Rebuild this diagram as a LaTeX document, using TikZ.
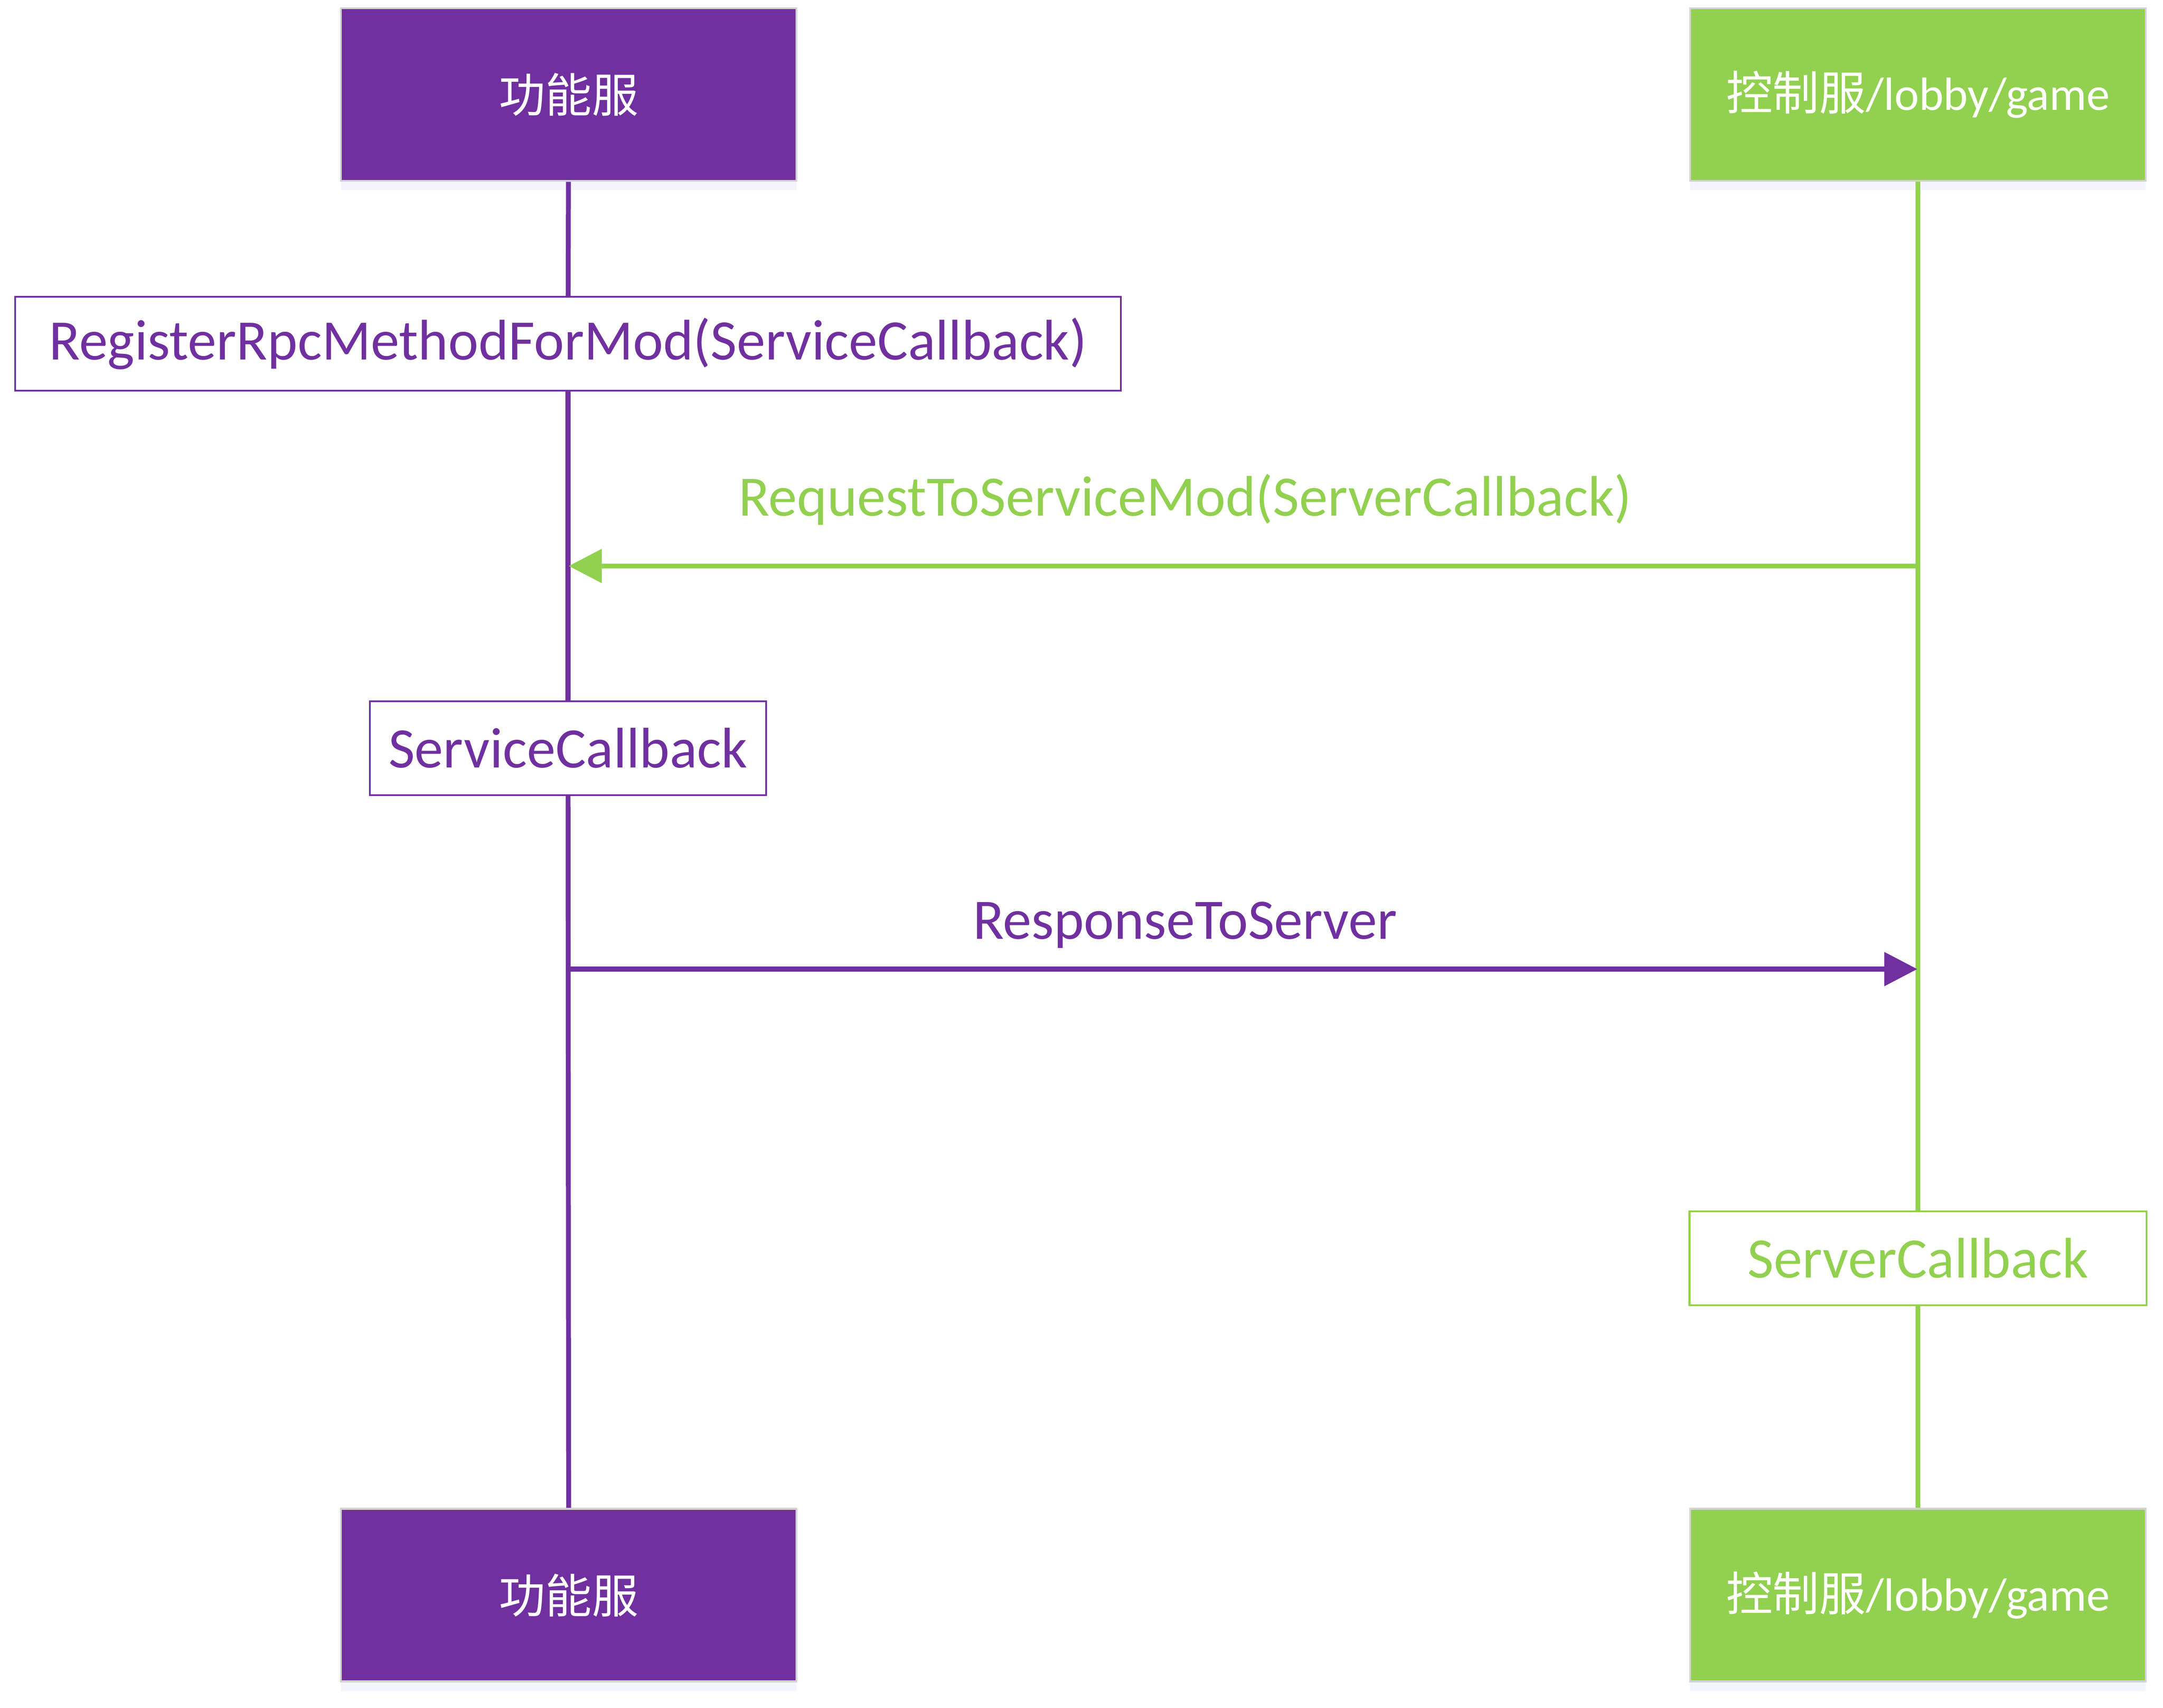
\documentclass[tikz,border=0pt]{standalone}
\usepackage{fontspec}
\setmainfont{Carlito}
\newfontfamily\cjk{Noto Sans CJK SC}
\usetikzlibrary{arrows.meta,shadows}
\definecolor{fpurple}{HTML}{7030A0}
\definecolor{cgreen}{HTML}{92D050}

\begin{document}
\begin{tikzpicture}[
	actor/.style={rectangle, minimum width=3.3cm, minimum height=1.25cm, draw=gray!35, line width=0.4pt,
		text=white, font=\fontsize{9.6}{12}\selectfont,
		drop shadow={shadow xshift=0pt, shadow yshift=-0.07cm, opacity=0.3, fill=blue!15}},
	call/.style={rectangle, minimum height=0.68cm, fill=white, line width=0.4pt, font=\fontsize{11.8}{13}\selectfont},
	life/.style={line width=1pt},
	msg/.style={line width=1pt, -{Triangle[length=2.4mm,width=2.4mm]}},
	lbl/.style={font=\fontsize{11.8}{13}\selectfont}]
	\useasboundingbox (0,0) rectangle (15.67,-12.37);
	% lifeline heads and feet
	\node (F1) at ( 4.12,  -0.685)	[actor, fill = fpurple]	{\cjk 功能服};
	\node (C1) at (13.895, -0.685)	[actor, fill = cgreen]	{{\cjk 控制服}/lobby/game};
	\node (F2) at ( 4.12, -11.555)	[actor, fill = fpurple]	{\cjk 功能服};
	\node (C2) at (13.895,-11.555)	[actor, fill = cgreen]	{{\cjk 控制服}/lobby/game};
	% activations
	\node (Reg) at ( 4.115, -2.49)	[call, draw = fpurple, text = fpurple, minimum width = 8.01cm]	{RegisterRpcMethodForMod(ServiceCallback)};
	\node (Svc) at ( 4.115, -5.42)	[call, draw = fpurple, text = fpurple, minimum width = 2.87cm]	{ServiceCallback};
	\node (Srv) at (13.895, -9.115)	[call, draw = cgreen, text = cgreen, minimum width = 3.31cm]	{ServerCallback};
	% lifelines
	\draw[life, fpurple] (F1) -- (Reg);
	\draw[life, fpurple] (Reg) -- (Svc);
	\draw[life, fpurple] (Svc) -- (F2);
	\draw[life, cgreen] (C1) -- (Srv);
	\draw[life, cgreen] (Srv) -- (C2);
	% messages
	\coordinate (Cr) at (13.89, -4.10);
	\coordinate (Fr) at ( 4.12, -4.10);
	\coordinate (Fs) at ( 4.12, -7.02);
	\coordinate (Cs) at (13.89, -7.02);
	\draw[msg, cgreen] (Cr) -- node[lbl, pos=0.543, yshift=0.48cm] {RequestToServiceMod(ServerCallback)} (Fr);
	\draw[msg, fpurple] (Fs) -- node[lbl, pos=0.457, yshift=0.32cm] {ResponseToServer} (Cs);
\end{tikzpicture}
\end{document}
